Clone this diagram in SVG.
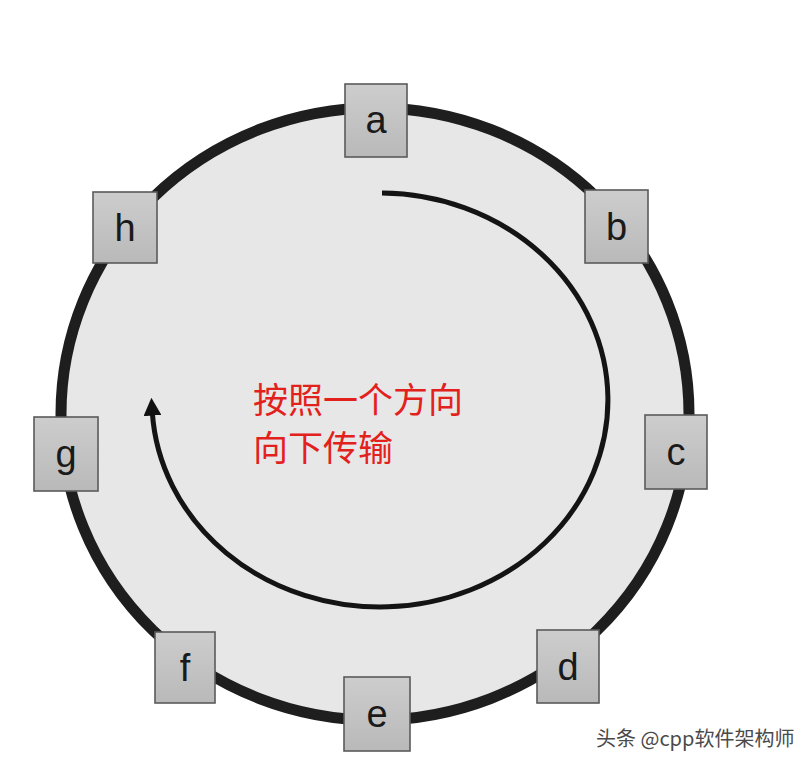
<svg xmlns="http://www.w3.org/2000/svg" width="812" height="766" viewBox="0 0 812 766">
  <defs>
    <linearGradient id="boxg" x1="0" y1="0" x2="0" y2="1">
      <stop offset="0" stop-color="#cdcdcd"/>
      <stop offset="1" stop-color="#b9b9b9"/>
    </linearGradient>
    <marker id="arrow" markerUnits="userSpaceOnUse" markerWidth="18" markerHeight="18" viewBox="0 0 10 10" refX="2" refY="5" orient="auto">
      <path d="M0,0 L10,5 L0,10 z" fill="#111"/>
    </marker>
    <style>
      .box { fill: url(#boxg); stroke: #5a5a5a; stroke-width: 1.6; }
      .lbl { font-family: "Liberation Sans", Arial, sans-serif; font-size: 38px; fill: #1a1a1a; text-anchor: middle; }
      .cn { font-family: "Noto Sans CJK SC", sans-serif; font-size: 35px; fill: #e3211c; }
      .wm { font-family: "Noto Sans CJK SC", sans-serif; font-size: 20px; fill: #4a4a4a; }
    </style>
  </defs>
  <rect x="0" y="0" width="812" height="766" fill="#ffffff"/>
  <g id="ring">
    <ellipse cx="375" cy="414" rx="314" ry="306" fill="#e7e7e7" stroke="#1e1e1e" stroke-width="11"/>
  </g>
  <g id="connectors">
    <path d="M 382 193 A 228 207 0 1 1 152.3 412" fill="none" stroke="#141414" stroke-width="5" marker-end="url(#arrow)"/>
  </g>
  <g id="label">
    <text class="cn" x="253" y="413">按照一个方向</text>
    <text class="cn" x="253" y="461">向下传输</text>
  </g>
  <g id="node-a"><rect class="box" x="345" y="84" width="62" height="73"/><text class="lbl" x="376" y="133">a</text></g>
  <g id="node-b"><rect class="box" x="585" y="190" width="63" height="73"/><text class="lbl" x="616.5" y="240">b</text></g>
  <g id="node-c"><rect class="box" x="645" y="415" width="62" height="74"/><text class="lbl" x="676" y="465">c</text></g>
  <g id="node-d"><rect class="box" x="537" y="630" width="62" height="73"/><text class="lbl" x="568" y="680">d</text></g>
  <g id="node-e"><rect class="box" x="344" y="677" width="66" height="74"/><text class="lbl" x="377" y="727">e</text></g>
  <g id="node-f"><rect class="box" x="155" y="632" width="60" height="71"/><text class="lbl" x="185" y="681">f</text></g>
  <g id="node-g"><rect class="box" x="34" y="417" width="64" height="74"/><text class="lbl" x="66" y="467">g</text></g>
  <g id="node-h"><rect class="box" x="93" y="192" width="64" height="71"/><text class="lbl" x="125" y="241">h</text></g>
  <g id="watermark">
    <text class="wm" x="596" y="746">头条 @cpp软件架构师</text>
  </g>
</svg>
